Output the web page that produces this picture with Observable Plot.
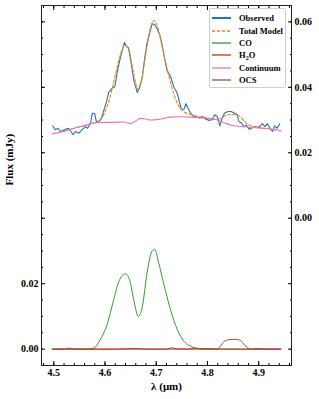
<!DOCTYPE html>
<html>
<head>
<meta charset="utf-8">
<script src="https://cdn.jsdelivr.net/npm/d3@7"></script>
<script src="https://cdn.jsdelivr.net/npm/@observablehq/plot@0.6"></script>
<style>
  html, body { margin: 0; padding: 0; background: #fff; }
  #wrap { position: relative; width: 319px; height: 399px; }
  #legend {
    position: absolute; left: 209px; top: 8px; width: 77px; height: 80px;
    border: 1px solid #cfcfcf; border-radius: 2px; background: rgba(255,255,255,0.85);
    font-family: "Liberation Serif", serif; font-weight: bold; font-size: 8.5px; color: #000;
    box-sizing: border-box; padding-top: 3px;
  }
  .item { display: flex; align-items: center; height: 12.4px; }
  .item svg { margin-left: 2px; margin-right: 8px; }
</style>
</head>
<body>
<div id="wrap"></div>
<script>
// Observed spectrum (right axis values, mJy)
const obsWave = [4.498,4.503,4.508,4.513,4.523,4.529,4.538,4.542,4.549,4.555,4.562,4.566,4.572,4.575,4.580,4.583,4.588,4.593,4.598,4.603,4.607,4.614,4.619,4.624,4.629,4.634,4.638,4.642,4.646,4.651,4.656,4.663,4.668,4.673,4.677,4.682,4.688,4.692,4.697,4.702,4.707,4.712,4.716,4.721,4.728,4.734,4.741,4.745,4.749,4.754,4.758,4.762,4.767,4.773,4.780,4.785,4.790,4.796,4.803,4.809,4.814,4.819,4.824,4.828,4.833,4.840,4.846,4.853,4.858,4.861,4.866,4.871,4.876,4.881,4.886,4.891,4.897,4.902,4.907,4.912,4.917,4.922,4.927,4.931,4.936,4.941];
const obsFlux = [0.0282,0.0270,0.0275,0.0265,0.0272,0.0275,0.0255,0.0265,0.0260,0.0270,0.0280,0.0275,0.0291,0.0321,0.0319,0.0296,0.0296,0.0306,0.0331,0.0357,0.0384,0.0398,0.0401,0.0448,0.0484,0.0515,0.0537,0.0525,0.0520,0.0474,0.0423,0.0384,0.0401,0.0433,0.0484,0.0535,0.0570,0.0594,0.0591,0.0578,0.0560,0.0525,0.0489,0.0451,0.0433,0.0402,0.0382,0.0357,0.0333,0.0333,0.0350,0.0336,0.0321,0.0311,0.0309,0.0306,0.0311,0.0303,0.0299,0.0301,0.0316,0.0311,0.0282,0.0303,0.0321,0.0326,0.0326,0.0321,0.0316,0.0296,0.0291,0.0280,0.0285,0.0272,0.0275,0.0280,0.0278,0.0280,0.0289,0.0280,0.0289,0.0275,0.0265,0.0282,0.0275,0.0289];

// Total model (right axis values)
const totWave = [4.497,4.52,4.54,4.56,4.575,4.588,4.597,4.604,4.611,4.624,4.631,4.638,4.646,4.655,4.664,4.670,4.682,4.690,4.696,4.703,4.712,4.722,4.732,4.742,4.752,4.765,4.78,4.80,4.815,4.825,4.835,4.845,4.857,4.867,4.877,4.89,4.91,4.93,4.943];
const totFlux = [0.0258,0.0266,0.0275,0.0283,0.0290,0.0296,0.0315,0.0341,0.0377,0.0464,0.0505,0.0528,0.0515,0.0450,0.0395,0.0415,0.0525,0.0590,0.0604,0.0582,0.0520,0.0452,0.0392,0.0348,0.0328,0.0318,0.0311,0.0307,0.0302,0.0304,0.0314,0.0317,0.0316,0.0305,0.0289,0.0280,0.0275,0.0271,0.0267];

// Continuum (right axis values)
const contWave = [4.497,4.52,4.539,4.56,4.572,4.598,4.62,4.637,4.650,4.660,4.669,4.68,4.689,4.705,4.728,4.75,4.767,4.79,4.805,4.819,4.832,4.845,4.86,4.871,4.89,4.91,4.93,4.943];
const contFlux = [0.0258,0.0266,0.0275,0.0283,0.0289,0.0293,0.0293,0.0294,0.0289,0.0297,0.0305,0.0303,0.0300,0.0302,0.0309,0.0310,0.0309,0.0306,0.0304,0.0300,0.0292,0.0285,0.0281,0.0280,0.0277,0.0275,0.0271,0.0267];

// Components (left axis values)
const coWave = [4.497,4.56,4.572,4.580,4.591,4.604,4.617,4.627,4.640,4.648,4.656,4.665,4.673,4.682,4.692,4.697,4.705,4.715,4.728,4.741,4.754,4.767,4.78,4.79,4.943];
const coFlux = [0,0,0.0001,0.0005,0.003,0.0075,0.0151,0.0207,0.0230,0.0212,0.0151,0.0100,0.0131,0.0233,0.0300,0.0305,0.0262,0.0197,0.0120,0.0060,0.0024,0.0009,0.0002,0,0];

const h2oWave = [4.497,4.52,4.53,4.54,4.62,4.64,4.66,4.68,4.72,4.73,4.74,4.76,4.775,4.79,4.80,4.82,4.89,4.90,4.91,4.943];
const h2oFlux = [0,0,0.0003,0,0,0.0001,0.0002,0,0,0.0004,0.0001,0,0.0003,0.0001,0.0002,0,0,0.0002,0,0];

const ocsWave = [4.497,4.815,4.822,4.831,4.842,4.855,4.865,4.872,4.878,4.885,4.943];
const ocsFlux = [0,0,0.0003,0.0021,0.0029,0.0030,0.0026,0.0013,0.0005,0,0];

const obsOffset = 0.04;  // right axis is shifted relative to left axis
const xMajor = [4.5, 4.6, 4.7, 4.8, 4.9];
const xMinor = d3.range(4.48, 4.97, 0.02).map(v => +v.toFixed(2));
const yMajor = [0, 0.02, 0.04, 0.06, 0.08, 0.10];
const yMinor = d3.range(-0.005, 0.1051, 0.005).map(v => +v.toFixed(3));
const leftLabels = [0, 0.02];
const rightLabels = [0.04, 0.06, 0.08, 0.10];

const colors = {obs:"#1f77b4", tot:"#ff7f0e", co:"#2ca02c", h2o:"#d62728", cont:"#e377c2", ocs:"#8c564b"};

const zip = (xs, ys) => xs.map((x, i) => ({x, y: ys[i]}));
const obs = zip(obsWave, obsFlux);
const tot = zip(totWave, totFlux);
const cont = zip(contWave, contFlux);
const co = zip(coWave, coFlux);
const h2o = zip(h2oWave, h2oFlux);
const ocs = zip(ocsWave, ocsFlux);

const shift = d => d.y + obsOffset;
const blank = () => "";

const chart = Plot.plot({
  width: 319,
  height: 399,
  marginTop: 5,
  marginBottom: 34,
  marginLeft: 41,
  marginRight: 28,
  style: {fontFamily: "'Liberation Serif', serif", fontSize: "10px", fontWeight: "bold", color: "#000", background: "#fff"},
  x: {domain: [4.476, 4.964], axis: null},
  y: {domain: [-0.005, 0.105], axis: null},
  marks: [
    Plot.line(co, {x: "x", y: "y", stroke: colors.co, strokeWidth: 1, curve: "monotone-x"}),
    Plot.line(ocs, {x: "x", y: "y", stroke: colors.ocs, strokeWidth: 1, curve: "monotone-x"}),
    Plot.line(h2o, {x: "x", y: "y", stroke: colors.h2o, strokeWidth: 1, curve: "monotone-x"}),
    Plot.line(obs, {x: "x", y: shift, stroke: colors.obs, strokeWidth: 1.1}),
    Plot.line(tot, {x: "x", y: shift, stroke: colors.tot, strokeWidth: 1.1, strokeDasharray: "3,2", curve: "monotone-x"}),
    Plot.line(cont, {x: "x", y: shift, stroke: colors.cont, strokeWidth: 1.1, curve: "monotone-x"}),
    // ticks (inward)
    Plot.axisX({anchor: "bottom", ticks: xMajor, tickSize: -4, tickFormat: blank, label: null}),
    Plot.axisX({anchor: "bottom", ticks: xMinor, tickSize: -2, tickFormat: blank, label: null}),
    Plot.axisX({anchor: "top", ticks: xMajor, tickSize: -4, tickFormat: blank, label: null}),
    Plot.axisX({anchor: "top", ticks: xMinor, tickSize: -2, tickFormat: blank, label: null}),
    Plot.axisY({anchor: "left", ticks: yMajor, tickSize: -4, tickFormat: blank, label: null}),
    Plot.axisY({anchor: "left", ticks: yMinor, tickSize: -2, tickFormat: blank, label: null}),
    Plot.axisY({anchor: "right", ticks: yMajor, tickSize: -4, tickFormat: blank, label: null}),
    Plot.axisY({anchor: "right", ticks: yMinor, tickSize: -2, tickFormat: blank, label: null}),
    // labels
    Plot.axisX({anchor: "bottom", ticks: xMajor, tickSize: 0, tickPadding: 3, tickFormat: d3.format(".1f"), label: null}),
    Plot.axisY({anchor: "left", ticks: leftLabels, tickSize: 0, tickPadding: 3, tickFormat: d3.format(".2f"), label: null}),
    Plot.axisY({anchor: "right", ticks: rightLabels, tickSize: 0, tickPadding: 3, tickFormat: d => (d - obsOffset).toFixed(2), label: null}),
    Plot.frame({stroke: "#222", strokeWidth: 1}),
    Plot.text(["λ (μm)"], {frameAnchor: "bottom", dy: 24, text: d => d, fontSize: 11, fontWeight: "bold"}),
    Plot.text(["Flux (mJy)"], {frameAnchor: "left", dx: -32, rotate: -90, text: d => d, fontSize: 11, fontWeight: "bold"})
  ]
});

const wrap = document.getElementById("wrap");
wrap.appendChild(chart);

const legendItems = [
  {label: "Observed", color: colors.obs, dash: null, w: 2},
  {label: "Total Model", color: colors.tot, dash: "3,2", w: 1.3},
  {label: "CO", color: colors.co, dash: null, w: 1.3},
  {label: "H<sub style='font-size:6px;vertical-align:-2px'>2</sub>O", color: colors.h2o, dash: null, w: 1.3},
  {label: "Continuum", color: colors.cont, dash: null, w: 1.3},
  {label: "OCS", color: colors.ocs, dash: null, w: 1.3}
];
const legend = document.createElement("div");
legend.id = "legend";
legend.innerHTML = legendItems.map(it =>
  `<div class="item"><svg width="19" height="6"><line x1="0" y1="3" x2="19" y2="3" stroke="${it.color}" stroke-width="${it.w}" ${it.dash ? `stroke-dasharray="${it.dash}"` : ""}/></svg><span>${it.label}</span></div>`
).join("");
wrap.appendChild(legend);
</script>
</body>
</html>
